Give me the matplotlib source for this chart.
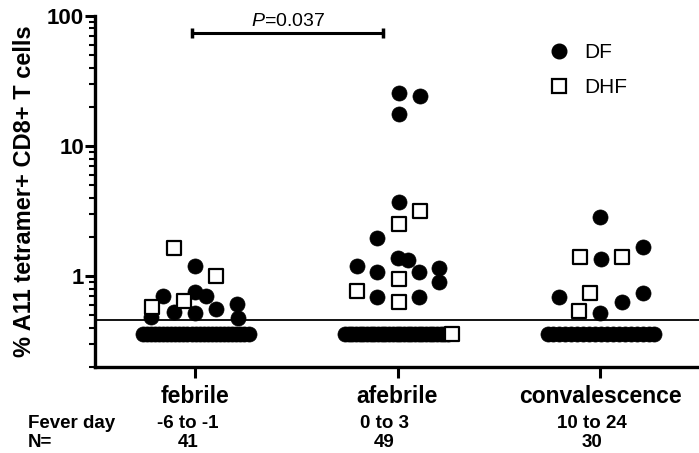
import numpy as np
import matplotlib
matplotlib.use('Agg')
import matplotlib.pyplot as plt
from matplotlib.lines import Line2D
from matplotlib.transforms import blended_transform_factory

plt.rcParams['font.family'] = ['Liberation Sans', 'DejaVu Sans']
plt.rcParams['mathtext.fontset'] = 'custom'
plt.rcParams['mathtext.it'] = 'Liberation Sans:italic'
plt.rcParams['mathtext.rm'] = 'Liberation Sans'

groups = ['febrile', 'afebrile', 'convalescence']
fever_days = ['-6 to -1', '0 to 3', '10 to 24']
n_values = ['41', '49', '30']

# points above the detection limit (x = group position + jitter, y = %)
df_x = [0.842, 1.0, 1.054, 0.783, 0.896, 1.0, 1.104, 1.207, 1.212, 1.0,
        2.005, 2.109, 2.005, 2.005, 1.901, 2.0, 2.054, 1.798, 1.901, 2.104,
        2.207, 2.207, 1.901, 2.104,
        3.0, 3.212, 3.005, 2.798, 3.109, 3.212, 3.0]
df_y = [0.70, 0.75, 0.70, 0.48, 0.53, 0.52, 0.56, 0.61, 0.475, 1.19,
        25.6, 24.2, 17.6, 3.7, 1.96, 1.37, 1.33, 1.19, 1.07, 1.07,
        1.15, 0.90, 0.69, 0.69,
        2.85, 1.67, 1.35, 0.69, 0.63, 0.74, 0.52]
dhf_x = [0.896, 1.104, 0.788, 0.946,
         2.109, 2.005, 2.005, 1.798, 2.005,
         2.901, 3.109, 2.951, 2.896]
dhf_y = [1.65, 1.0, 0.58, 0.64,
         3.16, 2.5, 0.95, 0.77, 0.63,
         1.40, 1.40, 0.74, 0.54]

# values below detection, plotted in a row at the floor
below_df = [27, 29, 19]
below_dhf = [0, 1, 0]
below_span = [(0.741, 1.264), (1.741, 2.267), (2.741, 3.269)]
floor_value = 0.36
cutoff = 0.46

bracket_x = (0.985, 1.93)
p_text = '$P$=0.037'
bracket_y = 74

table_x = [0.965, 1.935, 2.96]

fig = plt.figure(figsize=(6.99, 4.53), dpi=100)
ax = fig.add_axes([0.136, 0.19, 0.864, 0.775])

ms = 118
for i in range(3):
    lo, hi = below_span[i]
    n = below_df[i] + below_dhf[i]
    xs = np.linspace(lo, hi, n)
    ax.scatter(xs[:below_df[i]], [floor_value] * below_df[i], s=ms, c='black',
               edgecolors='black', linewidths=0.5, zorder=3)
    if below_dhf[i]:
        ax.scatter(xs[below_df[i]:], [floor_value] * below_dhf[i], s=100, marker='s',
                   facecolors='white', edgecolors='black', linewidths=1.6, zorder=4)

ax.scatter(df_x, df_y, s=ms, c='black', edgecolors='black', linewidths=0.5, zorder=3)
ax.scatter(dhf_x, dhf_y, s=100, marker='s', facecolors='white',
           edgecolors='black', linewidths=1.6, zorder=4)

ax.axhline(cutoff, color='black', lw=1.3, zorder=2)

ax.set_yscale('log')
ax.set_ylim(0.2, 100)
ax.set_xlim(0.506, 3.489)
ax.set_xticks([1, 2, 3])
ax.set_xticklabels(groups, fontsize=16.5, fontweight='bold')
ax.set_yticks([1, 10, 100])
ax.set_yticklabels(['1', '10', '100'], fontsize=16, fontweight='bold')
ax.tick_params(axis='x', length=8, width=2.2, pad=5)
ax.tick_params(axis='y', which='major', length=7, width=2.2, pad=1)
ax.tick_params(axis='y', which='minor', length=4, width=1.5)
ax.spines['top'].set_visible(False)
ax.spines['right'].set_visible(False)
for s in ['left', 'bottom']:
    ax.spines[s].set_linewidth(2.4)
ax.set_ylabel('% A11 tetramer+ CD8+ T cells', fontsize=17, fontweight='bold', labelpad=8)

# significance bracket
x0, x1 = bracket_x
ax.plot([x0, x1], [bracket_y, bracket_y], color='black', lw=2.2, clip_on=False)
for xx in bracket_x:
    ax.plot([xx, xx], [bracket_y * 0.91, bracket_y * 1.09], color='black', lw=2.5,
            solid_capstyle='butt', clip_on=False)
ax.text((x0 + x1) / 2, bracket_y * 1.06, p_text, ha='center', va='bottom', fontsize=14)

handles = [Line2D([], [], marker='o', ls='', color='black', markersize=10.5),
           Line2D([], [], marker='s', ls='', markerfacecolor='white',
                  markeredgecolor='black', markeredgewidth=1.6, markersize=10)]
ax.legend(handles, ['DF', 'DHF'], loc='upper left', bbox_to_anchor=(538 / 699, 1 - 33 / 453),
          bbox_transform=fig.transFigure, frameon=False, fontsize=15,
          handlelength=1.0, handletextpad=0.7, labelspacing=0.75, borderpad=0)

# table under the x axis
trans = blended_transform_factory(ax.transData, fig.transFigure)
fig.text(28 / 699, 1 - 428 / 453, 'Fever day', fontsize=13.5, fontweight='bold', va='baseline')
fig.text(28 / 699, 1 - 447 / 453, 'N=', fontsize=13.5, fontweight='bold', va='baseline')
for i in range(3):
    ax.text(table_x[i], 1 - 428 / 453, fever_days[i], transform=trans, ha='center',
            va='baseline', fontsize=13.5, fontweight='bold')
    ax.text(table_x[i], 1 - 447 / 453, n_values[i], transform=trans, ha='center',
            va='baseline', fontsize=13.5, fontweight='bold')

fig.savefig('out.png', dpi=100)
